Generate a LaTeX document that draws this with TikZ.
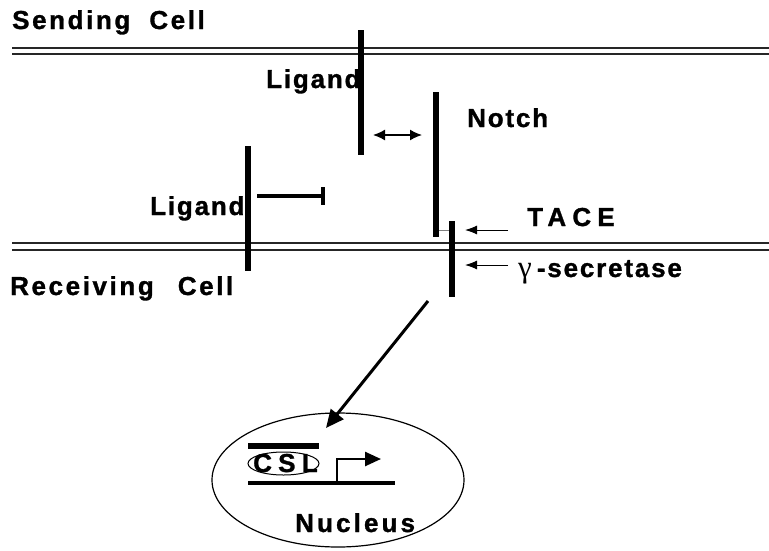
\documentclass[tikz,border=0pt]{standalone}
\usepackage{fontspec}
\setmainfont{Liberation Sans}
\newfontfamily\labfont{Liberation Sans Bold}[LetterSpace=7,FakeBold=1.2]
\newfontfamily\cellfont{Liberation Sans Bold}[LetterSpace=10,FakeBold=1.2]
\newfontfamily\nucfont{Liberation Sans Bold}[LetterSpace=12,FakeBold=1.2]
\newfontfamily\widefont{Liberation Sans Bold}[LetterSpace=24,FakeBold=1.2]
\newfontfamily\greekfont{Liberation Serif}
\usetikzlibrary{arrows.meta,shapes.geometric}
\begin{document}
\begin{tikzpicture}[x=1pt,y=-1pt,
  lab/.style={anchor=base west,inner sep=0pt,font=\labfont\fontsize{26}{30}\selectfont},
  celllab/.style={anchor=base west,inner sep=0pt,font=\cellfont\fontsize{26}{30}\selectfont},
  widelab/.style={anchor=base west,inner sep=0pt,font=\widefont\fontsize{26}{30}\selectfont},
  mem/.style={line width=1.4pt,black!85},
  bar/.style={line width=6pt},
  thinarrow/.style={line width=1pt,-{Latex[length=12pt,width=9pt]}},
]
\useasboundingbox (0,0) rectangle (769,550);
% membranes
\coordinate (m1a) at (12,48); \coordinate (m1b) at (769,48);
\coordinate (m2a) at (12,54); \coordinate (m2b) at (769,54);
\coordinate (m3a) at (12,243); \coordinate (m3b) at (769,243);
\coordinate (m4a) at (12,250); \coordinate (m4b) at (769,250);
\draw[mem] (m1a) -- (m1b);
\draw[mem,line width=1.8pt] (m2a) -- (m2b);
\draw[mem] (m3a) -- (m3b);
\draw[mem,line width=1.8pt] (m4a) -- (m4b);
% bars
\coordinate (lt1) at (361,30); \coordinate (lt2) at (361,155);
\coordinate (n1) at (436,92); \coordinate (n2) at (436,237);
\coordinate (s1) at (452,221); \coordinate (s2) at (452,297);
\coordinate (ll1) at (248,146); \coordinate (ll2) at (248,271);
\draw[bar] (lt1) -- (lt2);
\draw[bar] (n1) -- (n2);
\draw[bar] (s1) -- (s2);
\draw[bar] (ll1) -- (ll2);
\coordinate (g1) at (439,230); \coordinate (g2) at (449,230);
\draw[gray,line width=1pt] (g1) -- (g2);
% double arrow
\coordinate (da1) at (373,135); \coordinate (da2) at (422,135);
\draw[line width=1.5pt,{Latex[length=12pt,width=11pt]}-{Latex[length=12pt,width=11pt]}] (da1) -- (da2);
% inhibition
\coordinate (i1) at (257,196); \coordinate (i2) at (323,196);
\coordinate (t1) at (323,187); \coordinate (t2) at (323,205);
\draw[line width=3.5pt] (i1) -- (i2);
\draw[line width=4pt] (t1) -- (t2);
% TACE / gamma arrows
\coordinate (ta1) at (508,230); \coordinate (ta2) at (465,230);
\coordinate (ga1) at (508,265); \coordinate (ga2) at (465,265);
\draw[thinarrow] (ta1) -- (ta2);
\draw[thinarrow] (ga1) -- (ga2);
% long arrow
\coordinate (la1) at (428,301); \coordinate (la2) at (326,428);
\draw[line width=3pt,-{Triangle[length=18pt,width=16pt]}] (la1) -- (la2);
% nucleus
\node[draw,ellipse,line width=1.2pt,minimum width=252pt,minimum height=134pt,inner sep=0pt] (nucleus) at (338,480) {};
\coordinate (c1) at (248,446); \coordinate (c2) at (319,446);
\draw[line width=5.5pt] (c1) -- (c2);
\node[draw,ellipse,line width=1pt,minimum width=71pt,minimum height=23pt,inner sep=0pt] (cslell) at (283.5,463.5) {};
\coordinate (d1) at (248,483); \coordinate (d2) at (395,483);
\draw[line width=3.3pt] (d1) -- (d2);
\coordinate (p1) at (337,484.5); \coordinate (p2) at (381,459);
\draw[line width=2.5pt,-{Triangle[length=16pt,width=14pt]}] (p1) |- (p2);
% labels
\node[celllab] (sending) at (12,29) {Sending\hspace{19pt}Cell};
\node[celllab] (receiving) at (10,295) {Receiving\hspace{24pt}Cell};
\node[lab] (ligtop) at (266,88) {Ligand};
\node[lab] (notch) at (467,127) {Notch};
\node[lab] (ligleft) at (150,215) {Ligand};
\node[widelab] (tace) at (527,226) {TACE};
\node[lab] (gamma) at (518,277) {{\greekfont\fontsize{31}{30}\selectfont γ}\kern5pt-secretase};
\node[widelab] (csl) at (253,472) {CSL};
\node[lab,font=\nucfont\fontsize{26}{30}\selectfont] (nuclab) at (295,532) {Nucleus};
\end{tikzpicture}
\end{document}
